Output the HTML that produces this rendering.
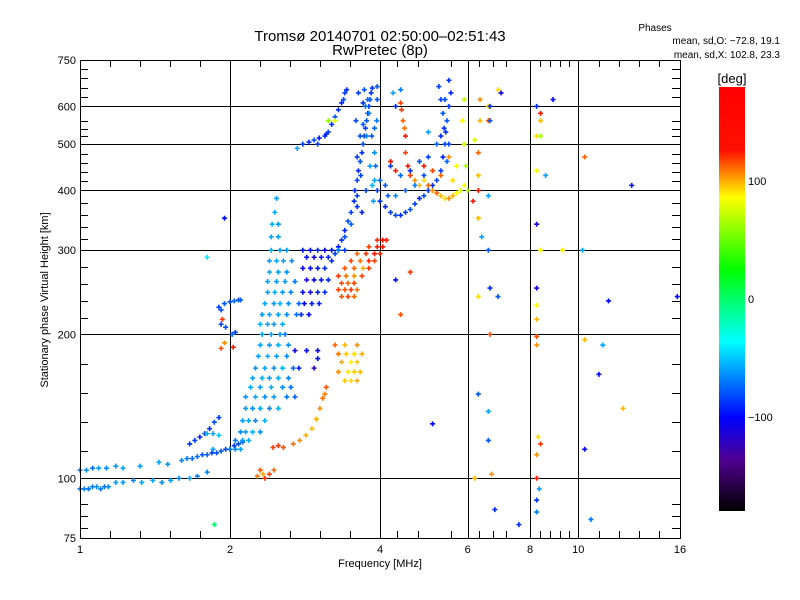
<!DOCTYPE html>
<html><head><meta charset="utf-8">
<style>
html,body{margin:0;padding:0;background:#fff;}
svg{display:block;font-family:"Liberation Sans",sans-serif;}
</style></head>
<body>
<svg id="chart" width="800" height="600" viewBox="0 0 800 600">
  <defs>
    <linearGradient id="cbar" x1="0" y1="0" x2="0" y2="1">
      <stop offset="0" stop-color="#ff0000"/>
      <stop offset="0.15" stop-color="#ff1000"/>
      <stop offset="0.26" stop-color="#ffff00"/>
      <stop offset="0.43" stop-color="#00ff00"/>
      <stop offset="0.60" stop-color="#00ffff"/>
      <stop offset="0.78" stop-color="#0000ff"/>
      <stop offset="0.88" stop-color="#500090"/>
      <stop offset="1" stop-color="#000000"/>
    </linearGradient>
  </defs>
  <text x="380" y="41" text-anchor="middle" font-size="15">Tromsø 20140701 02:50:00–02:51:43</text>
  <text x="380" y="55" text-anchor="middle" font-size="15">RwPretec (8p)</text>
  <text x="655" y="31" text-anchor="middle" font-size="10">Phases</text>
  <text x="780" y="44" text-anchor="end" font-size="10">mean, sd,O: −72.8, 19.1</text>
  <text x="780" y="58" text-anchor="end" font-size="10">mean, sd,X: 102.8, 23.3</text>
  <g id="grid"></g>
  <g id="points"></g>
  <rect x="80.5" y="60.5" width="600" height="478" fill="none" stroke="#000" stroke-width="1"/>
  <g id="ticks"></g>
  <text x="380" y="567" text-anchor="middle" font-size="11">Frequency [MHz]</text>
  <text x="0" y="0" transform="translate(48,300) rotate(-90)" text-anchor="middle" font-size="11">Stationary phase Virtual Height [km]</text>
  <rect x="719" y="87" width="26" height="424" fill="url(#cbar)"/>
  <text x="732" y="83" text-anchor="middle" font-size="13">[deg]</text>
  <g id="cbticks"></g>
</svg>
<script>
// ---- axis data ----
const xTickValues = [1, 2, 4, 6, 8, 10, 16];
const yTickValues = [75, 100, 200, 300, 400, 500, 600, 750];
const xGridValues = [2, 4, 6, 8, 10];
const yGridValues = [100, 200, 300, 400, 500, 600];
const colorbarTicks = [100, 0, -100];

// ---- echo data: frequency [MHz], height [km], phase [deg] per trace ----
const lowOFreq = [1.00,1.02,1.04,1.06,1.08,1.10,1.12,1.14,1.18,1.22,1.28,1.33,1.40,1.46,1.52,1.58,1.66,1.72,1.80];
const lowOHeight = [95,95,95,96,96,95,96,96,98,98,99,98,99,98,99,100,100,101,103];
const lowOPhase = [-70,-68,-72,-70,-66,-70,-72,-68,-60,-62,-66,-58,-60,-64,-62,-66,-60,-68,-66];

const upperLowFreq = [1.00,1.03,1.06,1.09,1.13,1.18,1.22,1.32,1.44,1.50,1.60,1.64,1.68,1.72,1.76,1.80,1.84,1.88,1.92,1.96,2.00,2.04,2.08,2.12];
const upperLowHeight = [104,104,105,105,105,106,105,106,108,107,109,110,110,111,112,112,113,113,114,115,115,117,118,119];
const upperLowPhase = [-70,-66,-72,-60,-64,-62,-58,-60,-60,-62,-66,-70,-74,-72,-80,-76,-85,-82,-78,-84,-80,-86,-82,-78];

const blueDiagFreq = [1.66,1.70,1.74,1.78,1.82,1.86,1.90,1.80,1.85,1.90];
const blueDiagHeight = [118,120,122,124,127,131,134,124,124,123];
const blueDiagPhase = [-88,-85,-92,-84,-88,-82,-86,-55,-58,-50];

const near2Freq = [1.90,1.92,1.95,2.00,2.04,2.08,2.10,1.92,1.96,2.02,2.05,1.92,1.95,1.93,2.03];
const near2Height = [228,225,232,234,235,236,236,210,207,200,202,187,192,215,188];
const near2Phase = [-85,-80,-78,-80,-76,-82,-78,-84,-80,-76,-86,115,105,120,125];

const cloudFreq = [2.0,2.05,2.1, 2.05,2.12,2.18, 2.1,2.15,2.22,2.3, 2.12,2.18,2.25,2.35, 2.15,2.22,2.3,2.4,2.5, 2.15,2.25,2.35,2.45,2.6,2.7, 2.2,2.3,2.42,2.55,2.65, 2.22,2.32,2.4,2.5,2.62, 2.25,2.35,2.45,2.55,2.68, 2.28,2.38,2.48,2.6, 2.3,2.4,2.5,2.62, 2.32,2.42,2.52,2.58, 2.3,2.38,2.45,2.55, 2.32,2.4,2.5,2.6,2.72, 2.35,2.45,2.52,2.62,2.75, 2.38,2.46,2.55,2.65, 2.38,2.48,2.58,2.7, 2.4,2.5,2.6, 2.4,2.48,2.56,2.66, 2.42,2.52,2.6, 2.42,2.5, 2.43,2.5, 2.46, 2.48];
const cloudHeight = [115,115,115, 120,120,120, 125,125,125,125, 132,132,132,132, 140,140,140,140,140, 148,148,148,148,148,148, 155,155,155,155,155, 162,162,162,162,162, 170,170,170,170,170, 180,180,180,180, 190,190,190,190, 200,200,200,200, 210,210,210,210, 220,220,220,220,220, 232,232,232,232,232, 245,245,245,245, 258,258,258,258, 270,270,270, 285,285,285,285, 300,300,300, 320,320, 340,340, 360, 385];
const cloudPhase = [-70,-65,-60, -68,-62,-58, -66,-60,-56,-64, -62,-58,-66,-55, -60,-64,-58,-66,-56, -62,-58,-64,-60,-70,-75, -58,-62,-56,-64,-72, -60,-56,-62,-58,-68, -62,-58,-64,-56,-75, -60,-56,-62,-66, -58,-62,-56,-64, -60,-58,-62,-70, -56,-60,-62,-58, -62,-58,-60,-66,-72, -58,-62,-56,-64,-75, -60,-56,-62,-68, -58,-62,-60,-70, -56,-60,-64, -62,-58,-60,-66, -56,-60,-62, -58,-60, -55,-62, -58, -60];

const purpleFreq = [2.8,2.9,3.0,3.1,3.2,3.3,3.4, 2.85,2.95,3.05,3.15, 2.8,2.9,3.0,3.1, 2.85,2.95,3.05,3.15, 2.8,2.9,3.0,3.1, 2.82,2.92,3.02, 2.78,2.88, 2.7,2.85,3.0, 2.75,2.95,3.0];
const purpleHeight = [300,300,300,300,300,300,300, 290,290,290,290, 275,275,275,275, 260,260,260,260, 245,245,245,245, 232,232,232, 220,220, 185,185,185, 170,170,178];
const purplePhase = [-95,-100,-90,-105,-95,-88,-85, -100,-110,-95,-92, -105,-100,-95,-90, -110,-100,-95,-92, -100,-105,-95,-90, -100,-95,-92, -90,-100, -110,-100,-105, -95,-120,-100];

const upperDiagFreq = [2.73,2.8,2.88,2.95,3.02,3.1,3.15,3.2,3.25,3.3,3.35,3.4,3.43,3.38,3.0,3.12,3.15,3.25];
const upperDiagHeight = [490,500,505,510,515,520,530,550,570,590,610,640,650,620,500,525,560,560];
const upperDiagPhase = [-60,-85,-90,-80,-95,-88,-85,-90,-80,-88,-92,-85,-90,-80,-88,-92,60,80];

const columnFreq = [3.2,3.25,3.3,3.35,3.4,3.45,3.5,3.55,3.3,3.4,3.5,3.6, 3.56,3.6,3.62,3.65,3.68,3.7,3.72,3.74,3.76,3.78,3.8,3.82,3.84,3.86,3.72,3.78,3.8,3.85,3.9,3.9,3.92,3.94,3.95,3.88,3.7,3.74,3.76,3.66,3.6,3.82,3.86,3.6,3.65,3.7,3.58,3.62,3.9,3.95,3.68,3.75];
const columnHeight = [285,295,305,315,330,345,360,380,300,320,340,370, 400,420,440,460,480,500,520,540,560,580,600,620,640,655,650,620,580,520,480,420,450,560,620,380,550,600,520,430,390,450,410,470,520,610,560,640,540,660,360,400];
const columnPhase = [-90,-85,-95,-88,-92,-80,-85,-90,-70,-80,-75,-88, -90,-85,-92,-80,-88,-82,-90,-85,-80,-88,-85,-82,-88,-90,-80,-75,-70,-80,-65,-60,-75,-70,-80,-60,-78,-72,-68,-82,-85,-60,-55,-85,-80,-88,-82,-86,-75,-80,-95,-85];

const orangeFreq = [3.35,3.45,3.55, 3.3,3.4,3.5,3.6, 3.35,3.45,3.55, 3.3,3.42,3.55,3.68, 3.4,3.55,3.7,3.8, 3.5,3.65,3.8,3.9, 3.6,3.75,3.9,4.0, 3.8,3.95,4.05, 3.95,4.05,4.12];
const orangeHeight = [240,240,240, 248,248,248,248, 256,256,256, 265,265,265,265, 275,275,275,275, 285,285,285,285, 295,295,295,295, 305,305,305, 315,315,315];
const orangePhase = [115,118,112, 118,115,120,110, 116,112,118, 120,110,105,118, 115,112,100,120, 118,110,122,118, 112,120,125,122, 118,125,128, 122,128,125];

const yellowFreq = [3.4,3.5,3.6, 3.3,3.45,3.55,3.65, 3.35,3.5,3.6, 3.3,3.42,3.55,3.68, 3.25,3.4,3.6];
const yellowHeight = [160,160,160, 167,167,167,167, 175,175,175, 182,182,182,182, 190,190,190];
const yellowPhase = [95,92,100, 105,90,95,98, 100,88,95, 110,95,92,100, 112,98,105];

const diagOrangeFreq = [2.44,2.5,2.56,2.68,2.76,2.84,2.92,2.98,3.03,3.07,3.12,3.1];
const diagOrangeHeight = [116,117,116,118,120,123,127,133,140,147,155,150];
const diagOrangePhase = [118,120,115,110,105,100,98,100,105,110,115,108];

const lowOrangeFreq = [2.27,2.3,2.35,2.4,2.45,2.33];
const lowOrangeHeight = [101,104,100,102,104,102];
const lowOrangePhase = [110,115,120,118,112,100];

const uFreq = [3.95,4.0,4.1,4.2,4.3,4.4,4.5,4.6,4.7,4.8,4.9,5.0,5.1,5.2,5.3,5.35,5.4,5.42,5.45,5.5,5.55,5.3,5.35,5.38,5.45,5.5,4.1,4.3,4.5,4.7,4.9,4.2,4.4,4.6,4.8,5.0,5.2,5.0,4.0,4.15,5.25,5.3,5.4,5.5];
const uHeight = [400,380,370,360,355,355,360,365,375,385,390,400,410,420,440,470,500,530,560,600,640,620,580,540,460,500,410,390,400,410,430,450,430,440,460,470,500,530,420,390,660,520,620,680];
const uPhase = [-85,-88,-92,-86,-82,-90,-85,-80,-86,-92,-82,-88,-90,-84,-86,-92,-82,-88,-80,-86,-92,-84,-80,-88,-75,-84,-80,-65,-75,-70,-80,-85,-75,-90,-80,-85,-75,-60,-75,-78,-85,-90,-82,-88];

const bandFreq = [4.4,4.45,4.5,4.5,4.55,4.2,4.3,4.6,4.7,4.8,4.9,5.0,5.1,5.2,5.3,5.4,5.5,5.6,5.7,5.8,5.9,5.95,5.9,5.85,5.9,6.0,5.6,5.7,5.3,5.1,4.9,5.5,6.3,6.3,6.35,6.35,6.6,6.6,6.9,6.2,6.3,6.15,4.42,4.48];
const bandHeight = [610,560,520,480,450,460,440,430,420,410,420,410,400,395,390,385,385,390,395,400,410,450,500,560,620,400,420,450,430,440,450,470,430,480,560,620,560,600,650,510,400,380,590,540];
const bandPhase = [118,112,125,118,125,125,125,118,105,98,92,112,105,112,98,92,105,98,85,75,85,65,75,85,70,65,92,85,112,118,125,105,98,112,98,105,112,92,92,75,125,125,120,110];

const scatterFreq = [6.65,7.0,6.65,6.3,6.4,6.6,6.6,6.65,6.3,6.65,6.3,6.9,6.6,6.6,6.7,6.2,6.8,7.6,8.25,8.4,8.4,8.25,8.4,8.25,8.25,8.4,8.25,8.25,8.25,8.25,8.25,8.3,8.4,8.25,8.25,8.35,8.25,8.25,8.6,8.9,9.3,10.3,10.2,10.3,11.2,11.0,11.5,12.8,12.3,15.8,10.3,10.6,5.1,4.3,4.4,4.6,1.95,1.8,1.85,1.86,4.25,4.3,4.4];
const scatterHeight = [600,640,560,350,320,300,390,250,240,200,150,240,138,120,102,100,86,80,600,580,560,520,520,440,340,300,250,230,215,198,190,122,118,112,100,95,85,90,430,620,300,470,300,195,190,165,235,410,140,240,115,82,130,260,220,270,350,290,115,80,640,600,650];
const scatterPhase = [-90,-110,-80,98,-60,-80,-60,-90,92,115,-80,-80,-60,-80,105,98,-90,-90,-90,125,98,92,65,85,-110,85,-110,85,98,115,105,92,120,105,125,-60,-70,-90,-60,-100,85,112,-60,98,-60,-100,-100,-100,98,-100,-100,-70,-100,-100,115,120,-100,-40,-60,0,-60,-90,-70];

const freqMHz = [].concat(lowOFreq, upperLowFreq, blueDiagFreq, near2Freq, cloudFreq, purpleFreq, upperDiagFreq, columnFreq, orangeFreq, yellowFreq, diagOrangeFreq, lowOrangeFreq, uFreq, bandFreq, scatterFreq);
const heightKm = [].concat(lowOHeight, upperLowHeight, blueDiagHeight, near2Height, cloudHeight, purpleHeight, upperDiagHeight, columnHeight, orangeHeight, yellowHeight, diagOrangeHeight, lowOrangeHeight, uHeight, bandHeight, scatterHeight);
const phaseDeg = [].concat(lowOPhase, upperLowPhase, blueDiagPhase, near2Phase, cloudPhase, purplePhase, upperDiagPhase, columnPhase, orangePhase, yellowPhase, diagOrangePhase, lowOrangePhase, uPhase, bandPhase, scatterPhase);

// ---- axes ----
const X0 = 80, X1 = 680, Y0 = 538, Y1 = 60;
const fMin = 1, fMax = 16, hMin = 75, hMax = 750;
function xScale(f){ return X0 + (X1 - X0) * Math.log(f / fMin) / Math.log(fMax / fMin); }
function yScale(h){ return Y0 - (Y0 - Y1) * Math.log(h / hMin) / Math.log(hMax / hMin); }

const stops = [[0,[255,0,0]],[0.15,[255,16,0]],[0.26,[255,255,0]],[0.43,[0,255,0]],[0.60,[0,255,255]],[0.78,[0,0,255]],[0.88,[80,0,144]],[1,[0,0,0]]];
function phaseColor(p){
  let t = (180 - p) / 360; t = Math.max(0, Math.min(1, t));
  for (let i = 1; i < stops.length; i++){
    if (t <= stops[i][0]){
      const a = stops[i-1], b = stops[i], u = (t - a[0]) / (b[0] - a[0]);
      const c = a[1].map((v, k) => Math.round(v + (b[1][k] - v) * u));
      return 'rgb(' + c.join(',') + ')';
    }
  }
  return '#000';
}
const NS = 'http://www.w3.org/2000/svg';
function mk(tag, attrs, parent){
  const e = document.createElementNS(NS, tag);
  for (const k in attrs) e.setAttribute(k, attrs[k]);
  parent.appendChild(e); return e;
}

const grid = document.getElementById('grid');
xGridValues.forEach(v => {
  const x = Math.round(xScale(v)) + 0.5;
  const l = mk('line', {x1:x, x2:x, y1:Y1, y2:Y0, stroke:'#000', 'stroke-width':1}, grid);
  
  
});
yGridValues.forEach(v => {
  const y = Math.round(yScale(v)) + 0.5;
  const l = mk('line', {x1:X0, x2:X1, y1:y, y2:y, stroke:'#000', 'stroke-width':1}, grid);
  
  
});

const ticks = document.getElementById('ticks');
const xMinorPx = [110,140,170,200,260,290,320,350,397,418,451,479,493,506,540,550,560,569,599,619,639,659];
const yMinorPx = [69,78,88,97,121,129,136,154,163,172,181,203,215,227,239,267,284,301,318,364,393,422,451,504,516,528];
xMinorPx.forEach(x => {
  mk('line', {x1:x+0.5, x2:x+0.5, y1:Y0, y2:Y0-7, stroke:'#000'}, ticks);
  mk('line', {x1:x+0.5, x2:x+0.5, y1:Y1, y2:Y1+7, stroke:'#000'}, ticks);
});
yMinorPx.forEach(y => {
  mk('line', {x1:X0, x2:X0+8, y1:y+0.5, y2:y+0.5, stroke:'#000'}, ticks);
  mk('line', {x1:X1, x2:X1-8, y1:y+0.5, y2:y+0.5, stroke:'#000'}, ticks);
});
xTickValues.forEach(v => {
  const t = mk('text', {x:xScale(v), y:Y0+15, 'text-anchor':'middle', 'font-size':11}, ticks);
  t.textContent = v;
  
  
});
yTickValues.forEach(v => {
  const t = mk('text', {x:X0-4, y:yScale(v)+4, 'text-anchor':'end', 'font-size':11}, ticks);
  t.textContent = v;
  
  
});
const cb = document.getElementById('cbticks');
colorbarTicks.forEach(v => {
  const y = 87 + (180 - v) / 360 * 424;
  const t = mk('text', {x:748, y:y+4, 'font-size':11}, cb);
  t.textContent = v === 0 ? '0' : (v < 0 ? '−' + Math.abs(v) : v);
  
  
});

const pts = document.getElementById('points');
const n = Math.min(freqMHz.length, heightKm.length, phaseDeg.length);
for (let i = 0; i < n; i++){
  const x = xScale(freqMHz[i]), y = yScale(heightKm[i]);
  const c = phaseColor(phaseDeg[i]);
  const p = mk('path', {d:'M'+(x-2.5)+' '+y+'h5M'+x+' '+(y-2.5)+'v5', stroke:c, 'stroke-width':1.6, fill:'none'}, pts);
  
  
}
</script>
</body></html>
